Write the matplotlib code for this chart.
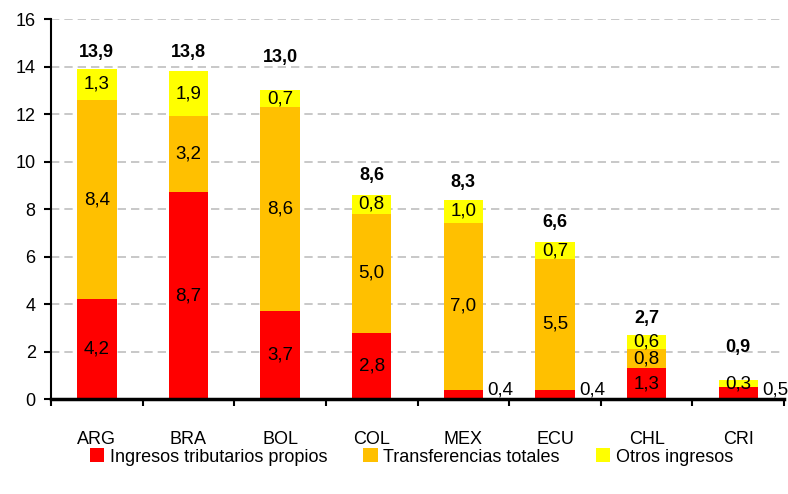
import matplotlib
matplotlib.use("Agg")
import matplotlib.pyplot as plt
import numpy as np
from matplotlib.patches import Patch

plt.rcParams['font.family'] = ['Liberation Sans', 'DejaVu Sans']

countries = ["ARG", "BRA", "BOL", "COL", "MEX", "ECU", "CHL", "CRI"]
tributarios = [4.2, 8.7, 3.7, 2.8, 0.4, 0.4, 1.3, 0.5]
transferencias = [8.4, 3.2, 8.6, 5.0, 7.0, 5.5, 0.8, 0.0]
otros = [1.3, 1.9, 0.7, 0.8, 1.0, 0.7, 0.6, 0.3]
totales = [13.9, 13.8, 13.0, 8.6, 8.3, 6.6, 2.7, 0.9]
series_names = ["Ingresos tributarios propios", "Transferencias totales", "Otros ingresos"]
yticks = [0, 2, 4, 6, 8, 10, 12, 14, 16]

colors = ["#FF0000", "#FFC000", "#FFFF00"]
total_offsets = [0.7, 0.8, 1.4, 0.8, 0.7, 0.85, 0.7, 1.37]
FS = 13

fig = plt.figure(figsize=(7.88, 4.94), dpi=100)
ax = fig.add_axes([0.0647, 0.192, 0.9303, 0.7695])

x = np.arange(len(countries))
w = 0.43
series = [tributarios, transferencias, otros]
bottom = np.zeros(len(countries))
for k, (vals, col) in enumerate(zip(series, colors)):
    vals = np.array(vals)
    ax.bar(x, vals, w, bottom=bottom, color=col, edgecolor='none', zorder=3)
    for i, v in enumerate(vals):
        if v <= 0:
            continue
        label = f"{v:.1f}".replace('.', ',')
        if k == 0 and v < 0.6 and i >= 4:
            ax.text(x[i] + w / 2 + 0.05, bottom[i] + 0.4, label,
                    ha='left', va='center', fontsize=13.5, zorder=4)
        else:
            ax.text(x[i], bottom[i] + v / 2, label,
                    ha='center', va='center', fontsize=13.5, zorder=4)
    bottom = bottom + vals

for i, t in enumerate(totales):
    ax.text(x[i], bottom[i] + total_offsets[i], f"{t:.1f}".replace('.', ','),
            ha='center', va='center', fontsize=FS, fontweight='bold', zorder=4)

ax.set_xlim(-0.5, len(countries) - 0.5)
ax.set_ylim(0, 16)
ax.set_yticks(yticks)
ax.set_yticklabels([str(v) for v in yticks], fontsize=FS)
ax.yaxis.grid(True, linestyle=(0, (5, 3)), color='#BFBFBF', linewidth=1.2, zorder=0)
ax.set_axisbelow(True)

ax.set_xticks(x)
ax.set_xticklabels(countries, fontsize=FS)
ax.tick_params(axis='x', which='major', length=0, pad=23)
ax.set_xticks(np.arange(-0.5, len(countries), 1), minor=True)
ax.tick_params(axis='x', which='minor', length=5, width=1.5, direction='out')
ax.tick_params(axis='y', length=5, width=1.5, direction='out', pad=6)

for s in ['top', 'right']:
    ax.spines[s].set_visible(False)
ax.spines['left'].set_linewidth(1.5)
ax.spines['bottom'].set_linewidth(2.5)
ax.spines['bottom'].set_zorder(5)

handles = [Patch(facecolor=c, edgecolor='none') for c in colors]
fig.legend(handles, series_names, loc='center', bbox_to_anchor=(0.522, 0.075),
           ncol=3, frameon=False, fontsize=FS, handlelength=0.8, handleheight=0.8,
           handletextpad=0.3, columnspacing=2.0)

fig.savefig("out.png", dpi=100)
